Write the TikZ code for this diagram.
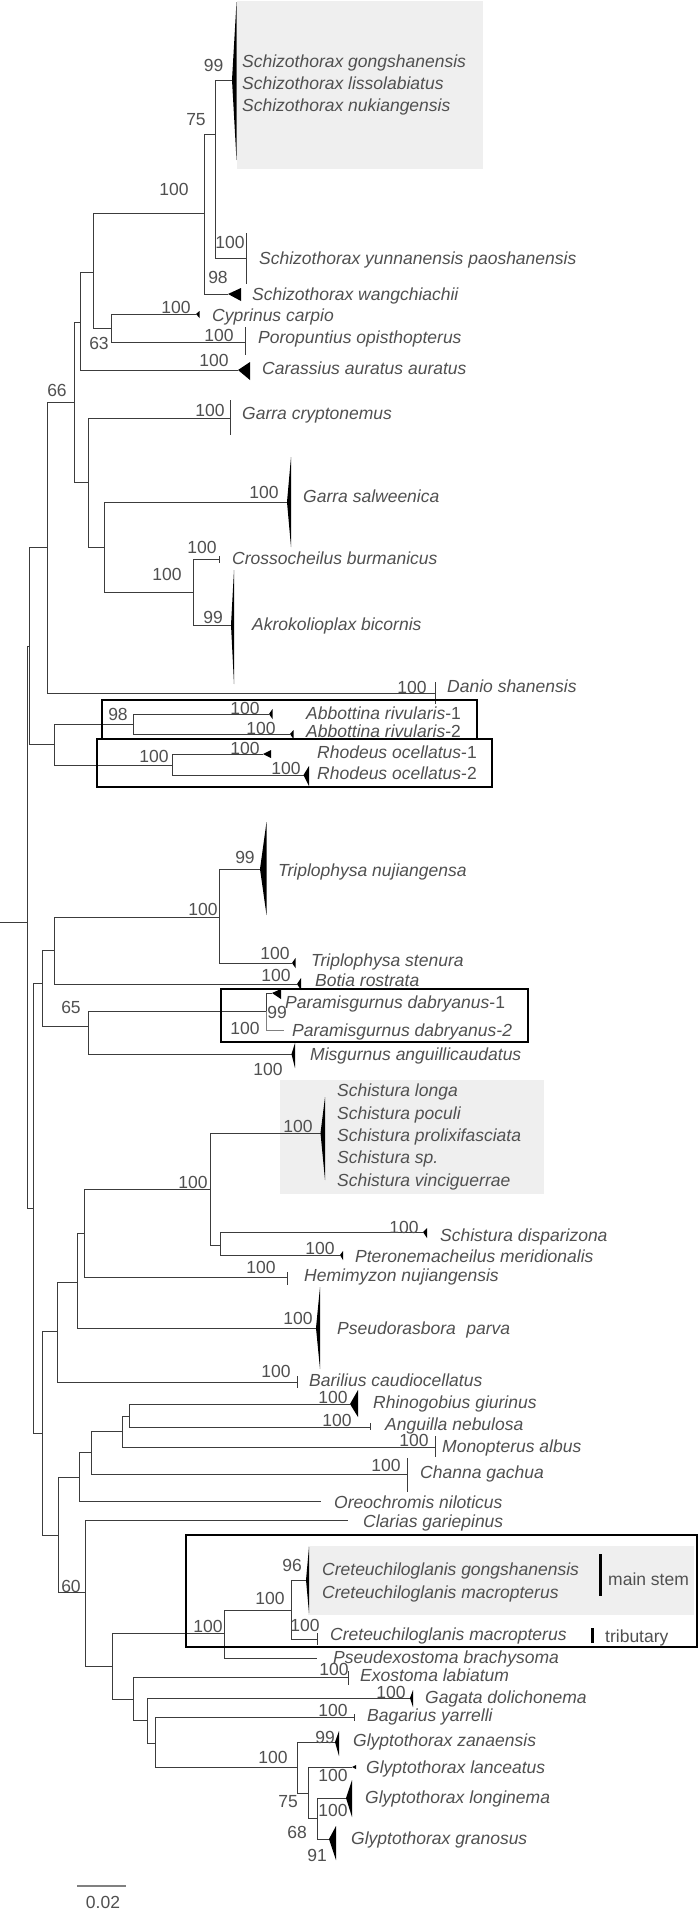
\documentclass[tikz,border=0pt]{standalone}
\usepackage{fontspec}
\setmainfont{Liberation Sans}
\definecolor{linec}{HTML}{3C3C3C}
\definecolor{txtc}{HTML}{505050}
\definecolor{boxg}{HTML}{EFEFEF}
\newcommand\spfont{\fontsize{17.5}{21}\selectfont\itshape}
\newcommand\labfont{\fontsize{17.5}{21}\selectfont}
\newcommand\brn[2]{\draw[br] (#1) |- (#2);}
\newcommand\cladetri[4]{\fill[tric] (#1) -- (#2,#3) -- (#2,#4) -- cycle;}
\newcommand\tk[3]{\draw[br] (#1,#2) -- (#1,#3);}
\begin{document}
\begin{tikzpicture}[x=1pt,y=-1pt,
  br/.style={draw=linec, line width=0.9pt},
  tric/.style={fill=black},
  sp/.style={font=\spfont, text=txtc, inner sep=0pt, anchor=base west},
  lab/.style={font=\labfont, text=txtc, inner sep=0pt, anchor=center},
  hl/.style={fill=boxg, draw=none},
  frame/.style={draw=black, line width=2.2pt},
  bar/.style={draw=black, line width=3pt}]
\useasboundingbox (0,0) rectangle (700,1909);
\fill[white] (0,0) rectangle (700,1909);
% grey highlight boxes
\fill[hl] (237,1) rectangle (483,169);
\fill[hl] (280,1080) rectangle (544,1194);
\fill[hl] (308,1546) rectangle (694,1615);
% coordinates
\coordinate (R) at (27,922);
\coordinate (rootend) at (0,922);
\coordinate (A) at (29,646);
\coordinate (B) at (33,1208);
\coordinate (n66) at (47,547);
\coordinate (n74) at (74,402);
\coordinate (n80) at (80,322);
\coordinate (n93) at (93,272);
\coordinate (n204) at (204.5,213);
\coordinate (n215) at (215,134);
\coordinate (tSch) at (232,80);
\coordinate (tYun) at (246.5,258);
\coordinate (tWan) at (228,294);
\coordinate (n111) at (111,328);
\coordinate (tCyp) at (196,314);
\coordinate (tPor) at (245.5,342);
\coordinate (tCar) at (238,370);
\coordinate (n88) at (88,482);
\coordinate (tGcr) at (230,418);
\coordinate (n104) at (104,547);
\coordinate (tGsa) at (287,502);
\coordinate (n193) at (193,592);
\coordinate (tCro) at (219.6,559);
\coordinate (tAkr) at (231,625);
\coordinate (tDan) at (435,693);
\coordinate (nAR) at (54,744);
\coordinate (n133) at (133,724);
\coordinate (tAb1) at (269,714);
\coordinate (tAb2) at (290,734);
\coordinate (n172) at (172,765);
\coordinate (tRh1) at (263,754);
\coordinate (tRh2) at (303.5,775);
\coordinate (n42a) at (42,983);
\coordinate (n54) at (54,950);
\coordinate (n219) at (219,917);
\coordinate (tTnu) at (260,869);
\coordinate (tTst) at (292,963);
\coordinate (tBot) at (297,984);
\coordinate (n88b) at (88,1026);
\coordinate (n266) at (266,1011);
\coordinate (tPa1) at (272,993);
\coordinate (tPa2) at (283.5,1030);
\coordinate (tMis) at (291.5,1054);
\coordinate (n42b) at (42,1433);
\coordinate (n57) at (57,1331);
\coordinate (n77) at (77,1282);
\coordinate (n84) at (84,1233);
\coordinate (n210) at (210,1189);
\coordinate (tSst) at (320.5,1133);
\coordinate (n220) at (220,1245);
\coordinate (tSdi) at (423,1232);
\coordinate (tPte) at (340,1255);
\coordinate (tHem) at (287,1277);
\coordinate (tPse) at (316,1328);
\coordinate (tBar) at (297,1382);
\coordinate (n58) at (58,1535);
\coordinate (n79) at (79,1477);
\coordinate (n91) at (91,1452);
\coordinate (n122) at (122,1431);
\coordinate (n129) at (129,1416);
\coordinate (tRhi) at (350,1404);
\coordinate (tAng) at (370.5,1427);
\coordinate (tMon) at (435,1447);
\coordinate (tCha) at (407,1474);
\coordinate (tOre) at (321,1501);
\coordinate (n85) at (85,1592);
\coordinate (tCla) at (348,1520);
\coordinate (n112) at (112,1666);
\coordinate (n224) at (224,1633);
\coordinate (n291) at (291,1610);
\coordinate (tCrm) at (306,1580);
\coordinate (tCrt) at (317,1639);
\coordinate (tPsx) at (317,1658);
\coordinate (n133b) at (133,1699);
\coordinate (tExo) at (348,1677);
\coordinate (n147) at (147,1720);
\coordinate (tGag) at (410,1698);
\coordinate (n155) at (155,1743);
\coordinate (tBag) at (354,1717);
\coordinate (n297) at (297,1767);
\coordinate (tZan) at (335,1742);
\coordinate (n308) at (308,1793);
\coordinate (tLan) at (352,1767);
\coordinate (n317) at (317,1818);
\coordinate (tLon) at (346,1798);
\coordinate (tGra) at (329,1839);
% branches
\draw[br] (rootend) -- (R);
\brn{R}{A}\brn{R}{B}
\brn{A}{n66}\brn{A}{nAR}
\brn{n66}{n74}\brn{n66}{tDan}
\brn{n74}{n80}\brn{n74}{n88}
\brn{n80}{n93}\brn{n80}{tCar}
\brn{n93}{n204}\brn{n93}{n111}
\brn{n204}{n215}\brn{n204}{tWan}
\brn{n215}{tSch}\brn{n215}{tYun}
\brn{n111}{tCyp}\brn{n111}{tPor}
\brn{n88}{tGcr}\brn{n88}{n104}
\brn{n104}{tGsa}\brn{n104}{n193}
\brn{n193}{tCro}\brn{n193}{tAkr}
\brn{nAR}{n133}\brn{nAR}{n172}
\brn{n133}{tAb1}\brn{n133}{tAb2}
\brn{n172}{tRh1}\brn{n172}{tRh2}
\brn{B}{n42a}\brn{B}{n42b}
\brn{n42a}{n54}\brn{n42a}{n88b}
\brn{n54}{n219}\brn{n54}{tBot}
\brn{n219}{tTnu}\brn{n219}{tTst}
\brn{n88b}{n266}\brn{n88b}{tMis}
\brn{n266}{tPa1}
\draw[draw=gray, line width=0.9pt] (n266) |- (tPa2);
\brn{n42b}{n57}\brn{n42b}{n58}
\brn{n57}{n77}\brn{n57}{tBar}
\brn{n77}{n84}\brn{n77}{tPse}
\brn{n84}{n210}\brn{n84}{tHem}
\brn{n210}{tSst}\brn{n210}{n220}
\brn{n220}{tSdi}\brn{n220}{tPte}
\brn{n58}{n79}\brn{n58}{n85}
\brn{n79}{n91}\brn{n79}{tOre}
\brn{n91}{n122}\brn{n91}{tCha}
\brn{n122}{n129}\brn{n122}{tMon}
\brn{n129}{tRhi}\brn{n129}{tAng}
\brn{n85}{tCla}\brn{n85}{n112}
\brn{n112}{n224}\brn{n112}{n133b}
\brn{n224}{n291}\brn{n224}{tPsx}
\brn{n291}{tCrm}\brn{n291}{tCrt}
\brn{n133b}{tExo}\brn{n133b}{n147}
\brn{n147}{tGag}\brn{n147}{n155}
\brn{n155}{tBag}\brn{n155}{n297}
\brn{n297}{tZan}\brn{n297}{n308}
\brn{n308}{tLan}\brn{n308}{n317}
\brn{n317}{tLon}\brn{n317}{tGra}
% collapsed clades
\cladetri{tSch}{236.5}{2}{160}
\cladetri{tWan}{241}{288}{301}
\cladetri{tCar}{250}{362}{380}
\cladetri{tCyp}{199.5}{311}{318}
\cladetri{tGsa}{291}{457}{547}
\cladetri{tAkr}{234}{570}{684}
\cladetri{tAb1}{272.5}{709}{719}
\cladetri{tAb2}{293.5}{730}{739}
\cladetri{tRh1}{271}{750}{758}
\cladetri{tRh2}{309}{766}{786}
\cladetri{tTnu}{266.5}{822}{915}
\cladetri{tTst}{295.5}{958}{968}
\cladetri{tBot}{301}{978}{990}
\cladetri{tPa1}{281}{989}{999}
\cladetri{tMis}{295}{1043}{1068}
\cladetri{tSst}{325}{1097}{1180}
\cladetri{tSdi}{427}{1228}{1238}
\cladetri{tPte}{343}{1251}{1260}
\cladetri{tPse}{320}{1287}{1369}
\cladetri{tRhi}{358}{1390}{1417}
\cladetri{tCrm}{309}{1547}{1613}
\cladetri{tGag}{413}{1690}{1707}
\cladetri{tZan}{339}{1731}{1756}
\cladetri{tLan}{356}{1765}{1769}
\cladetri{tLon}{352}{1780}{1817}
\cladetri{tGra}{336}{1826}{1860}
% zero-width clades
\tk{246.5}{233}{284}
\tk{245.5}{327}{355}
\tk{230}{400}{435}
\tk{219.6}{556}{563}
\tk{435}{682}{704}
\tk{287}{1272}{1285}
\tk{297}{1376}{1388}
\tk{370.5}{1423}{1430}
\tk{435}{1436}{1457}
\tk{407}{1458}{1492}
\tk{317}{1633}{1645}
\tk{348}{1671}{1685}
\tk{354}{1714}{1721}
% support values
\node[lab] (l1) at (213.5,65) {99};
\node[lab] (l2) at (196,120) {75};
\node[lab] (l3) at (174,189) {100};
\node[lab] (l4) at (230,242) {100};
\node[lab] (l5) at (218,277) {98};
\node[lab] (l6) at (176,307) {100};
\node[lab] (l7) at (99,343) {63};
\node[lab] (l8) at (219,335) {100};
\node[lab] (l9) at (214,360) {100};
\node[lab] (l10) at (57,390) {66};
\node[lab] (l11) at (210,410) {100};
\node[lab] (l12) at (264,492) {100};
\node[lab] (l13) at (167,574) {100};
\node[lab] (l14) at (202,547) {100};
\node[lab] (l15) at (213,617) {99};
\node[lab] (l16) at (412,687) {100};
\node[lab] (l17) at (118,714) {98};
\node[lab] (l18) at (245,708) {100};
\node[lab] (l19) at (261,728) {100};
\node[lab] (l20) at (154,756) {100};
\node[lab] (l21) at (245,748) {100};
\node[lab] (l22) at (286,768) {100};
\node[lab] (l23) at (245,857) {99};
\node[lab] (l24) at (203,909) {100};
\node[lab] (l25) at (275,953) {100};
\node[lab] (l26) at (276,975) {100};
\node[lab] (l27) at (71,1007) {65};
\node[lab] (l28) at (277,1012) {99};
\node[lab] (l29) at (245,1028) {100};
\node[lab] (l30) at (268,1069) {100};
\node[lab] (l31) at (298,1126) {100};
\node[lab] (l32) at (193,1182) {100};
\node[lab] (l33) at (404,1227) {100};
\node[lab] (l34) at (320,1248) {100};
\node[lab] (l35) at (261,1267) {100};
\node[lab] (l36) at (298,1318) {100};
\node[lab] (l37) at (276,1371) {100};
\node[lab] (l38) at (333,1397) {100};
\node[lab] (l39) at (337,1420) {100};
\node[lab] (l40) at (414,1440) {100};
\node[lab] (l41) at (386,1465) {100};
\node[lab] (l42) at (71,1586) {60};
\node[lab] (l43) at (292,1565) {96};
\node[lab] (l44) at (270,1598) {100};
\node[lab] (l45) at (208,1626) {100};
\node[lab] (l46) at (305,1625) {100};
\node[lab] (l47) at (334,1669) {100};
\node[lab] (l48) at (391,1692) {100};
\node[lab] (l49) at (333,1710) {100};
\node[lab] (l50) at (325,1737) {99};
\node[lab] (l51) at (273,1757) {100};
\node[lab] (l52) at (333,1775) {100};
\node[lab] (l53) at (288,1802) {75};
\node[lab] (l54) at (333,1810) {100};
\node[lab] (l55) at (297,1832) {68};
\node[lab] (l56) at (317,1855) {91};
% taxa
\node[sp] (s1) at (242,67) {Schizothorax gongshanensis};
\node[sp] (s2) at (242,89) {Schizothorax lissolabiatus};
\node[sp] (s3) at (242,111) {Schizothorax nukiangensis};
\node[sp] (s4) at (259,264) {Schizothorax yunnanensis paoshanensis};
\node[sp] (s5) at (252,300) {Schizothorax wangchiachii};
\node[sp] (s6) at (212,321) {Cyprinus carpio};
\node[sp] (s7) at (258,343) {Poropuntius opisthopterus};
\node[sp] (s8) at (262,374) {Carassius auratus auratus};
\node[sp] (s9) at (242,419) {Garra cryptonemus};
\node[sp] (s10) at (303,502) {Garra salweenica};
\node[sp] (s11) at (232,564) {Crossocheilus burmanicus};
\node[sp] (s12) at (252,630) {Akrokolioplax bicornis};
\node[sp] (s13) at (447,692) {Danio shanensis};
\node[sp] (s14) at (306,719) {Abbottina rivularis\upshape -1};
\node[sp] (s15) at (306,737) {Abbottina rivularis\upshape -2};
\node[sp] (s16) at (317,758) {Rhodeus ocellatus\upshape -1};
\node[sp] (s17) at (317,779) {Rhodeus ocellatus\upshape -2};
\node[sp] (s18) at (278,876) {Triplophysa nujiangensa};
\node[sp] (s19) at (311,966) {Triplophysa stenura};
\node[sp] (s20) at (315,986) {Botia rostrata};
\node[sp] (s21) at (285,1008) {Paramisgurnus dabryanus\upshape -1};
\node[sp] (s22) at (292,1036) {Paramisgurnus dabryanus-2};
\node[sp] (s23) at (310,1060) {Misgurnus anguillicaudatus};
\node[sp] (s24) at (337,1096) {Schistura longa};
\node[sp] (s25) at (337,1119) {Schistura poculi};
\node[sp] (s26) at (337,1141) {Schistura prolixifasciata};
\node[sp] (s27) at (337,1163) {Schistura sp.};
\node[sp] (s28) at (337,1186) {Schistura vinciguerrae};
\node[sp] (s29) at (440,1241) {Schistura disparizona};
\node[sp] (s30) at (355,1262) {Pteronemacheilus meridionalis};
\node[sp] (s31) at (304,1281) {Hemimyzon nujiangensis};
\node[sp] (s32) at (337,1334) {Pseudorasbora\hspace{0.6em}parva};
\node[sp] (s33) at (309,1386) {Barilius caudiocellatus};
\node[sp] (s34) at (373,1408) {Rhinogobius giurinus};
\node[sp] (s35) at (385,1430) {Anguilla nebulosa};
\node[sp] (s36) at (442,1452) {Monopterus albus};
\node[sp] (s37) at (420,1478) {Channa gachua};
\node[sp] (s38) at (334,1508) {Oreochromis niloticus};
\node[sp] (s39) at (363,1527) {Clarias gariepinus};
\node[sp] (s40) at (322,1575) {Creteuchiloglanis gongshanensis};
\node[sp] (s41) at (322,1598) {Creteuchiloglanis macropterus};
\node[sp] (s42) at (330,1640) {Creteuchiloglanis macropterus};
\node[sp] (s43) at (333,1663) {Pseudexostoma brachysoma};
\node[sp] (s44) at (360,1681) {Exostoma labiatum};
\node[sp] (s45) at (425,1703) {Gagata dolichonema};
\node[sp] (s46) at (367,1721) {Bagarius yarrelli};
\node[sp] (s47) at (353,1746) {Glyptothorax zanaensis};
\node[sp] (s48) at (366,1773) {Glyptothorax lanceatus};
\node[sp] (s49) at (365,1803) {Glyptothorax longinema};
\node[sp] (s50) at (351,1844) {Glyptothorax granosus};
% side annotations
\draw[bar] (600,1554) -- (600,1596);
\node[sp, font=\labfont] (ms) at (608,1585) {main stem};
\draw[bar] (592,1628) -- (592,1643);
\node[sp, font=\labfont] (tr) at (605,1642) {tributary};
% frames
\draw[frame] (102,700) rectangle (477,739);
\draw[frame] (97,739) rectangle (492,787);
\draw[frame] (221,989) rectangle (528,1042);
\draw[frame] (186,1535) rectangle (697,1647);
% scale bar
\coordinate (sb1) at (77,1886);
\coordinate (sb2) at (126,1886);
\draw[draw=gray, line width=1.2pt] (sb1) -- (sb2);
\node[lab] (sbl) at (103,1902) {0.02};
\end{tikzpicture}
\end{document}
